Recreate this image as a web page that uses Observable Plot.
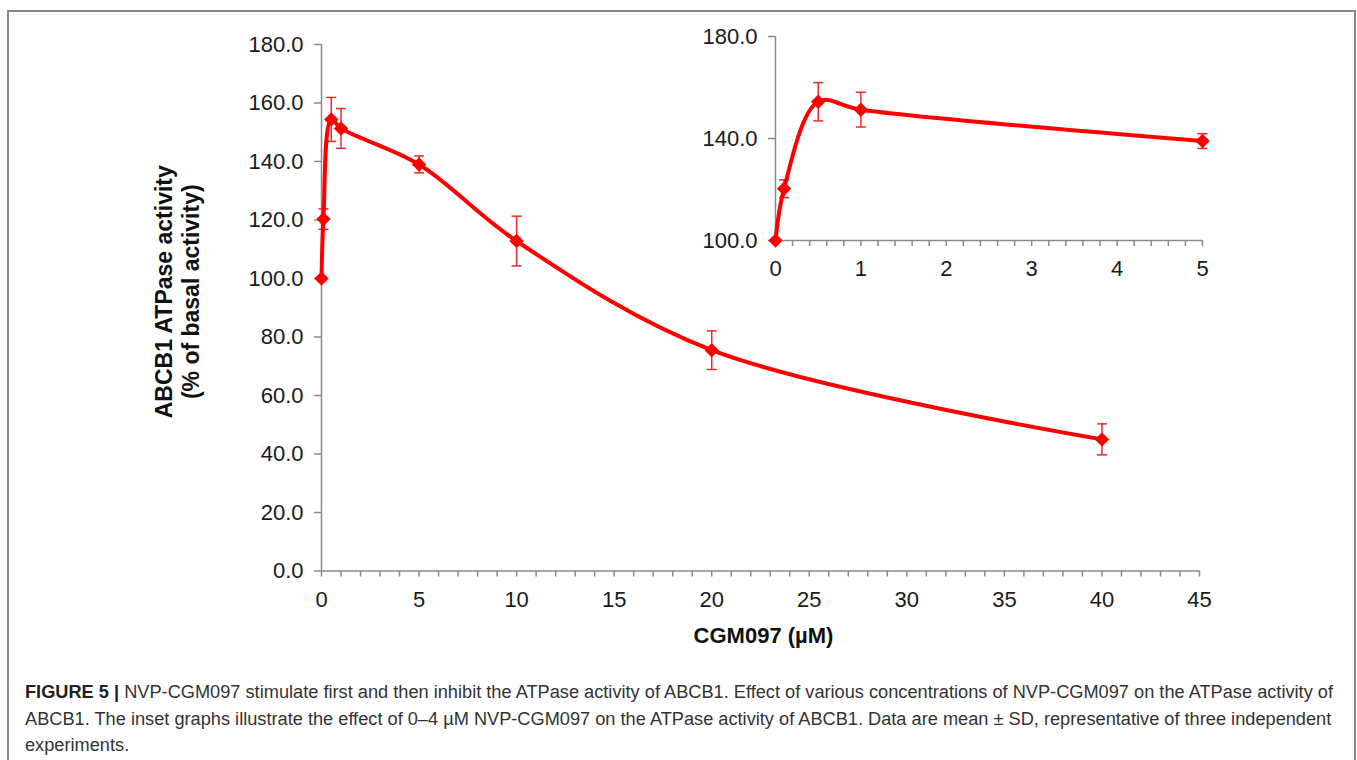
<!DOCTYPE html>
<html><head><meta charset="utf-8">
<script src="https://cdn.jsdelivr.net/npm/d3@7"></script>
<script src="https://cdn.jsdelivr.net/npm/@observablehq/plot@0.6"></script>
<style>
body{margin:0;background:#fff;}
#wrap{position:relative;width:1357px;height:760px;overflow:hidden;font-family:"Liberation Sans",Arial,sans-serif;background:#fff;}
#frame{position:absolute;left:7px;top:10px;width:1349px;height:800px;border:2px solid #888;box-sizing:border-box;}
#main,#inset{position:absolute;left:0;top:0;}
#caption{position:absolute;left:25px;top:679px;font-size:18px;line-height:26.5px;color:#333;}
.cl{display:block;white-space:nowrap;transform-origin:0 50%;width:max-content;}
.cl b{color:#222;}
</style></head>
<body><div id="wrap"><div id="frame"></div><div id="main"></div><div id="inset"></div><div id="caption"></div></div>
<script>
// ---- data ----
const conc = [0, 0.1, 0.5, 1, 5, 10, 20, 40];            // CGM097 (µM)
const activity = [100, 120.3, 154.4, 151.3, 139.0, 112.8, 75.5, 45.0]; // % of basal
const sd = [0, 3.5, 7.5, 6.8, 2.9, 8.5, 6.6, 5.3];
const mainXTicks = [0, 5, 10, 15, 20, 25, 30, 35, 40, 45];
const mainXMinor = d3.range(0, 46, 1);
const mainYTicks = [0, 20, 40, 60, 80, 100, 120, 140, 160, 180];
const insetXTicks = [0, 1, 2, 3, 4, 5];
const insetXMinor = d3.range(0, 26).map(i => i / 5);
const insetYTicks = [100, 140, 180];
const insetMaxConc = 5;
const xTitle = "CGM097 (µM)";
const yTitle = "ABCB1 ATPase activity\n(% of basal activity)";
const captionLines = [
  ["FIGURE 5 |", " NVP-CGM097 stimulate first and then inhibit the ATPase activity of ABCB1. Effect of various concentrations of NVP-CGM097 on the ATPase activity of"],
  ["", "ABCB1. The inset graphs illustrate the effect of 0–4 µM NVP-CGM097 on the ATPase activity of ABCB1. Data are mean ± SD, representative of three independent"],
  ["", "experiments."]
];

// ---- tables ----
const data = conc.map((c, i) => ({c, a: activity[i], sd: sd[i], lo: activity[i] - sd[i], hi: activity[i] + sd[i]}));
const errData = data.filter(d => d.sd > 0);
const caps = errData.flatMap(d => [{c: d.c, y: d.lo}, {c: d.c, y: d.hi}]);
const insetData = data.filter(d => d.c <= insetMaxConc);
const insetErr = insetData.filter(d => d.sd > 0);
const insetCaps = insetErr.flatMap(d => [{c: d.c, y: d.lo}, {c: d.c, y: d.hi}]);

const capSymbol = {draw(ctx, size) { const w = Math.sqrt(size / Math.PI); ctx.moveTo(-w, 0); ctx.lineTo(w, 0); }};
const RED = "#ff0000", ERR = "#f02828", AX = "#8a8a8a";
const W = 1357;
const font = "Liberation Sans, Arial, sans-serif";

function seriesMarks(d, err, cp) {
  return [
    Plot.ruleX(err, {x: "c", y1: "lo", y2: "hi", stroke: ERR, strokeWidth: 1.5}),
    Plot.dot(cp, {x: "c", y: "y", symbol: capSymbol, r: 5, stroke: ERR, fill: "none", strokeWidth: 1.5}),
    Plot.line(d, {x: "c", y: "a", curve: "catmull-rom", stroke: RED, strokeWidth: 4}),
    Plot.dot(d, {x: "c", y: "a", symbol: "diamond2", r: 6.5, fill: RED, stroke: "none"})
  ];
}

const mainH = 660;
const main = Plot.plot({
  width: W, height: mainH,
  marginLeft: 321, marginRight: W - 1199, marginTop: 44, marginBottom: mainH - 570.5,
  x: {domain: [0, 45]}, y: {domain: [0, 180]},
  style: {fontFamily: font, fontSize: "22px", color: "#1a1a1a", background: "transparent", overflow: "visible"},
  marks: [
    Plot.axisX(mainXMinor, {tickSize: 6, tickFormat: () => "", stroke: AX, strokeWidth: 1.5, label: null}),
    Plot.axisX(mainXTicks, {tickSize: 0, tickPadding: 20, tickFormat: d => String(d), label: null, fontSize: 22}),
    Plot.axisY(mainYTicks, {tickSize: 7, tickPadding: 11, tickFormat: d => d.toFixed(1), label: null, stroke: AX, strokeWidth: 1.5, fontSize: 22}),
    Plot.ruleY([0], {stroke: AX, strokeWidth: 1.5}),
    Plot.ruleX([0], {y1: 0, y2: 180, stroke: AX, strokeWidth: 1.5}),
    ...seriesMarks(data, errData, caps),
    Plot.text([xTitle], {frameAnchor: "bottom", textAnchor: "middle", lineAnchor: "middle", dx: 3, dy: 64.5, fontWeight: "bold", fontSize: 22, fill: "#111"}),
    Plot.text([yTitle], {frameAnchor: "left", textAnchor: "middle", lineAnchor: "middle", rotate: -90, dx: -144.5, dy: -16, fontWeight: "bold", fontSize: 23, lineHeight: 1.18, fill: "#111"})
  ]
});
document.getElementById("main").appendChild(main);

const insetH = 300;
const inset = Plot.plot({
  width: W, height: insetH,
  marginLeft: 775, marginRight: W - 1202, marginTop: 36, marginBottom: insetH - 240,
  x: {domain: [0, 5]}, y: {domain: [100, 180]},
  style: {fontFamily: font, fontSize: "22px", color: "#1a1a1a", background: "transparent", overflow: "visible"},
  marks: [
    Plot.axisX(insetXMinor, {tickSize: 6, tickFormat: () => "", stroke: AX, strokeWidth: 1.5, label: null}),
    Plot.axisX(insetXTicks, {tickSize: 0, tickPadding: 20, tickFormat: d => String(d), label: null, fontSize: 22}),
    Plot.axisY(insetYTicks, {tickSize: 7, tickPadding: 11, tickFormat: d => d.toFixed(1), label: null, stroke: AX, strokeWidth: 1.5, fontSize: 22}),
    Plot.ruleY([100], {stroke: AX, strokeWidth: 1.5}),
    Plot.ruleX([0], {y1: 100, y2: 180, stroke: AX, strokeWidth: 1.5}),
    ...seriesMarks(insetData, insetErr, insetCaps)
  ]
});
document.getElementById("inset").appendChild(inset);

// ---- caption ----
const cap = document.getElementById("caption");
const spans = captionLines.map(([b, t]) => {
  const s = document.createElement("span");
  s.className = "cl";
  if (b) { const bb = document.createElement("b"); bb.textContent = b; s.appendChild(bb); }
  s.appendChild(document.createTextNode(t));
  cap.appendChild(s);
  return s;
});
const w0 = spans[0].getBoundingClientRect().width;
const k = 1308 / w0;
spans.forEach(s => s.style.transform = `scaleX(${k})`);
</script>
</body></html>
